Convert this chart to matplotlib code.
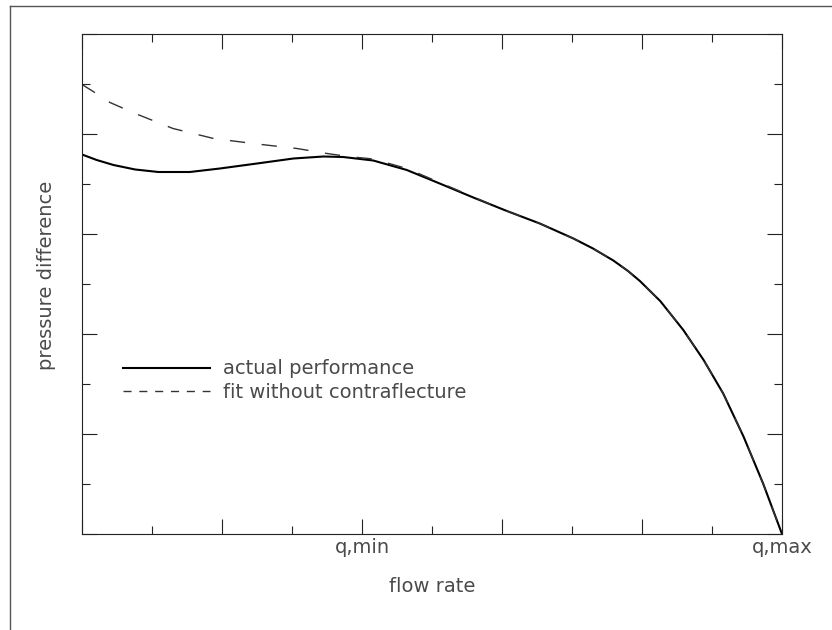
import matplotlib
matplotlib.use("Agg")
import matplotlib.pyplot as plt
from matplotlib.lines import Line2D

plt.rcParams['font.family'] = 'DejaVu Sans'
plt.rcParams['font.size'] = 14

# data (axis units 0..10)
q_actual = [0, 0.21, 0.45, 0.76, 1.09, 1.54, 1.97, 2.50, 3.02, 3.45, 3.73, 4.16,
            4.64, 5.11, 5.59, 6.07, 6.54, 7.02, 7.30, 7.59, 7.80, 7.97, 8.26,
            8.59, 8.88, 9.16, 9.45, 9.73, 10.0]
p_actual = [7.59, 7.48, 7.38, 7.29, 7.24, 7.24, 7.31, 7.41, 7.51, 7.55, 7.54, 7.47,
            7.28, 7.01, 6.73, 6.46, 6.21, 5.91, 5.71, 5.47, 5.26, 5.06, 4.66,
            4.08, 3.48, 2.81, 1.95, 1.01, 0.0]

q_fit = [0, 0.16, 0.40, 0.76, 1.30, 1.88, 2.50, 3.07, 3.50, 3.80, 4.16, 4.64,
         5.11, 5.59, 6.07, 6.54, 7.02, 7.30, 7.59, 7.80, 7.97, 8.26, 8.59,
         8.88, 9.16, 9.45, 9.73, 10.0]
p_fit = [8.99, 8.85, 8.63, 8.41, 8.11, 7.91, 7.80, 7.71, 7.61, 7.55, 7.50, 7.31,
         7.03, 6.74, 6.46, 6.21, 5.91, 5.71, 5.47, 5.26, 5.06, 4.66, 4.08,
         3.48, 2.81, 1.95, 1.01, 0.0]

major_ticks = [0, 2, 4, 6, 8, 10]
minor_ticks = [1, 3, 5, 7, 9]
x_tick_labels = ['', '', 'q,min', '', '', 'q,max']

text_col = '#4a4a4a'
axis_col = '#222222'

fig = plt.figure(figsize=(8.32, 6.30), dpi=100)
ax = fig.add_axes([82 / 832, 96 / 630, 700 / 832, 500 / 630])

ax.plot(q_actual, p_actual, color='black', linewidth=1.5, solid_joinstyle='round')
ax.plot(q_fit, p_fit, color='#333333', linewidth=1.0, dashes=(11, 12))

ax.set_xlim(0, 10)
ax.set_ylim(0, 10)

ax.set_xticks(major_ticks)
ax.set_xticklabels(x_tick_labels, color=text_col)
ax.set_xticks(minor_ticks, minor=True)
ax.set_yticks(major_ticks)
ax.set_yticklabels([])
ax.set_yticks(minor_ticks, minor=True)

ax.tick_params(which='both', direction='in', top=True, right=True,
               color=axis_col, width=0.8, pad=3)
ax.tick_params(which='major', length=11)
ax.tick_params(which='minor', length=5.5)
for s in ax.spines.values():
    s.set_color(axis_col)
    s.set_linewidth(0.8)

ax.set_xlabel('flow rate', color=text_col, va='center')
ax.xaxis.set_label_coords(0.5, -0.106)
ax.set_ylabel('pressure difference', color=text_col, va='center')
ax.yaxis.set_label_coords(-0.0514, 0.518)

# legend (handles styled like the reference)
h_solid = Line2D([], [], color='black', linewidth=1.5)
h_dash = Line2D([], [], color='#333333', linewidth=1.0, dashes=(5.8, 5.6))
leg = ax.legend([h_solid, h_dash], ['actual performance', 'fit without contraflecture'],
                loc='center left', bbox_to_anchor=(41 / 700, 0.307), frameon=False,
                borderpad=0, borderaxespad=0, handlelength=4.48, handletextpad=0.67,
                labelspacing=0.22)
for t in leg.get_texts():
    t.set_color(text_col)

# outer frame of the page
fig.add_artist(Line2D([9.5 / 832, 1.0], [1 - 5.7 / 630, 1 - 5.7 / 630],
                      transform=fig.transFigure, color='#555555', linewidth=1.0))
fig.add_artist(Line2D([9.5 / 832, 9.5 / 832], [0.0, 1 - 5.7 / 630],
                      transform=fig.transFigure, color='#555555', linewidth=1.0))

fig.savefig('out.png', dpi=100)
